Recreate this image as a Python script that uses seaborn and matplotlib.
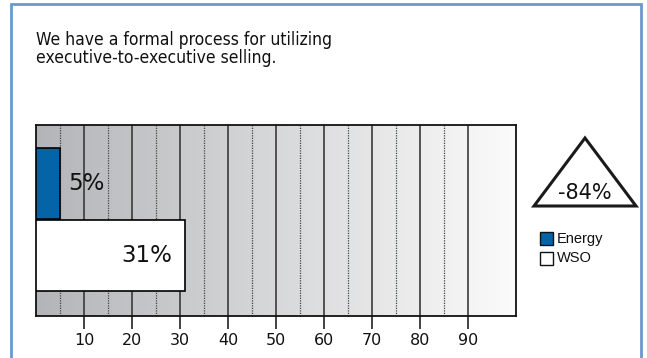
import numpy as np
import matplotlib
matplotlib.use("Agg")
import matplotlib.pyplot as plt
from matplotlib import font_manager
from matplotlib.patches import Polygon, Rectangle
from matplotlib.colors import LinearSegmentedColormap
import seaborn as sns
import pandas as pd

# ---- data ----
categories = ["Energy", "WSO"]
values = [5, 31]
value_labels = ["5%", "31%"]
tick_values = [10, 20, 30, 40, 50, 60, 70, 80, 90]
tick_labels = ["10", "20", "30", "40", "50", "60", "70", "80", "90"]
title_text = "We have a formal process for utilizing\nexecutive-to-executive selling."
delta_text = "-84%"
bar_colors = ["#0563a8", "#ffffff"]

sns.set_theme(style="white")
plt.rcParams["font.family"] = ["DejaVu Sans"]

# look for a condensed/narrow sans face
narrow_prop = None
for f in font_manager.fontManager.ttflist:
    nm = f.name
    st = str(f.stretch)
    if f.style != "normal" or f.weight not in (400, "normal", "regular"):
        continue
    if "Narrow" in nm or "Condensed" in nm or st in ("condensed", "semi-condensed", "75", "87.5"):
        if "Mono" in nm or "Serif" in nm:
            continue
        narrow_prop = font_manager.FontProperties(fname=f.fname)
        break

W, H = 647, 358
fig = plt.figure(figsize=(W / 100, H / 100), dpi=100)
fig.patch.set_facecolor("white")

def fx(px):
    return px / W

def fy(py):
    return 1 - py / H

# outer border
fig.patches.append(Rectangle((fx(11), fy(400)), fx(630), (400 - 4) / H,
                             transform=fig.transFigure, fill=False,
                             edgecolor="#6b98cf", linewidth=2.0))

ax = fig.add_axes([fx(36), fy(316), fx(480), (316 - 125) / H])

df = pd.DataFrame({"cat": categories, "val": values})
sns.barplot(data=df, x="val", y="cat", hue="cat", palette=bar_colors,
            order=categories, hue_order=categories, legend=False, saturation=1,
            width=0.98, edgecolor="black", linewidth=1.2, ax=ax, zorder=3)

ax.set_xlim(0, 100)
ylims = (1.84, -0.81)

# gradient background
grad = np.linspace(0, 1, 256).reshape(1, -1)
cmap = LinearSegmentedColormap.from_list("g", ["#b4b5b8", "#fbfbfb"])
ax.imshow(grad, extent=[0, 100, ylims[0], ylims[1]], aspect="auto", cmap=cmap, zorder=0)
ax.set_ylim(*ylims)

for v in range(10, 100, 10):
    ax.axvline(v, color="#3a3a3a", linewidth=1.2, zorder=1)
for v in range(5, 90, 10):
    ax.axvline(v, color="#444444", linewidth=0.9, linestyle=(0, (1, 1)), zorder=1)

for i, (v, lab) in enumerate(zip(values, value_labels)):
    if v < 15:
        ax.annotate(lab, (v, i), xytext=(6, 0), textcoords="offset points",
                    ha="left", va="center", fontsize=16.5, color="#111111", zorder=5)
    else:
        ax.annotate(lab, (v, i), xytext=(-9, 0), textcoords="offset points",
                    ha="right", va="center", fontsize=16.5, color="#111111", zorder=5)

ax.set_xticks(tick_values)
ax.set_xticklabels(tick_labels, fontsize=11.5)
ax.set_yticks([])
ax.set_xlabel("")
ax.set_ylabel("")
ax.tick_params(axis="x", bottom=True, length=9, width=1.2, color="#222222",
               pad=3, labelcolor="#111111", direction="out")
for s in ax.spines.values():
    s.set_color("#111111")
    s.set_linewidth(1.3)

# title
if narrow_prop is not None:
    tp = narrow_prop.copy()
    tp.set_size(12.5)
    fig.text(fx(36), fy(31), title_text, ha="left", va="top",
             fontproperties=tp, linespacing=1.0, color="#111111")
else:
    fig.text(fx(36), fy(31), title_text, ha="left", va="top", fontsize=12.5,
             family=["Liberation Sans", "DejaVu Sans"], linespacing=1.0,
             color="#111111")

# triangle with delta
tri = Polygon([(fx(585), fy(138)), (fx(534), fy(206)), (fx(636), fy(206))],
              closed=True, transform=fig.transFigure, fill=False,
              edgecolor="#1a1a1a", linewidth=2.2, joinstyle="miter")
fig.patches.append(tri)
fig.text(fx(585), fy(193), delta_text, ha="center", va="center", fontsize=15,
         color="#111111")

# legend
for i, (c, col) in enumerate(zip(categories, bar_colors)):
    y0 = 232 + i * 20
    fig.patches.append(Rectangle((fx(540), fy(y0 + 13)), fx(13), 13 / H,
                                 transform=fig.transFigure, facecolor=col,
                                 edgecolor="#111111", linewidth=1.0))
    fig.text(fx(557), fy(y0 + 6.5), c, ha="left", va="center", fontsize=10.5,
             family=["Liberation Sans", "DejaVu Sans"], color="#111111")

fig.savefig("out.png", dpi=100)
